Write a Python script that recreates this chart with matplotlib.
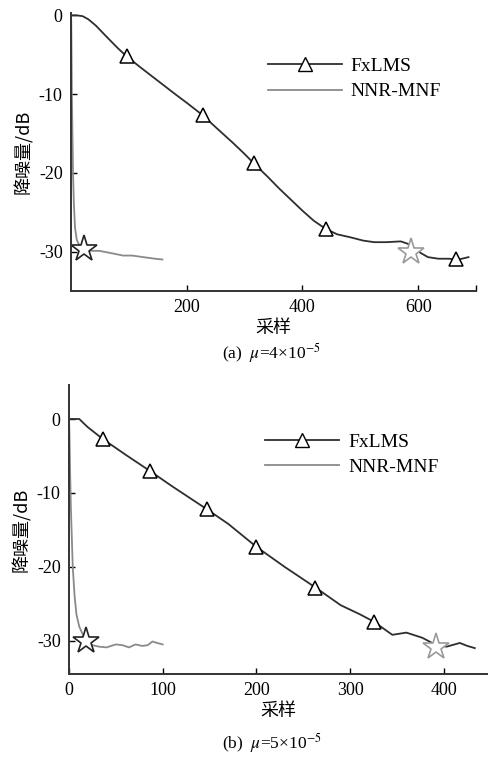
import matplotlib.pyplot as plt
from matplotlib.lines import Line2D

plt.rcParams['font.family'] = ['Liberation Serif', 'Noto Sans CJK SC']
plt.rcParams['mathtext.fontset'] = 'stix'

# ---- (a) mu = 4e-5 ----
fx_a_x = [0, 10, 20, 30, 43, 60, 80, 96, 120, 150, 180, 200, 228, 250, 280, 300, 316,
          340, 360, 380, 400, 420, 440, 460, 484, 505, 524, 545, 570, 582, 594, 605,
          617, 635, 652, 670, 687]
fx_a_y = [0, 0, -0.1, -0.5, -1.3, -2.6, -4.1, -5.2, -6.6, -8.3, -10.0, -11.1, -12.7,
          -14.2, -16.2, -17.6, -18.8, -20.5, -22.0, -23.4, -24.8, -26.1, -27.1, -27.8,
          -28.2, -28.6, -28.8, -28.8, -28.7, -29.0, -29.6, -30.2, -30.7, -30.9, -30.9,
          -31.0, -30.7]
nn_a_x = [0, 0.5, 1, 1.5, 2.5, 3.5, 5, 7, 10, 15, 23, 35, 49, 70, 90, 106, 125, 145, 158]
nn_a_y = [0, -1, -5, -10, -15, -20, -24, -27, -28.5, -29.3, -29.7, -29.9, -29.9, -30.2,
          -30.5, -30.5, -30.7, -30.9, -31.0]
tri_a_x = [96, 228, 316, 440, 666]
tri_a_y = [-5.2, -12.7, -18.8, -27.1, -30.9]
star_a = [(23, -29.7), (588, -30.1)]

# ---- (b) mu = 5e-5 ----
fx_b_x = [0, 5, 11, 15, 20, 36, 60, 86, 110, 147, 170, 200, 230, 263, 290, 310, 325,
          345, 360, 377, 392, 403, 417, 425, 433]
fx_b_y = [0, 0, 0, -0.5, -1.1, -2.7, -4.8, -7.0, -9.1, -12.2, -14.2, -17.3, -20.0,
          -22.8, -25.2, -26.4, -27.4, -29.2, -28.9, -29.6, -30.6, -30.8, -30.3, -30.7,
          -31.0]
nn_b_x = [0, 0.5, 1, 2, 4, 6, 8, 11, 18, 25, 32, 40, 50, 57, 64, 71, 78, 84, 89, 94, 100]
nn_b_y = [0, -2, -6, -12, -20, -24, -26.5, -28.1, -30.1, -30.6, -30.8, -30.9, -30.5,
          -30.6, -30.9, -30.5, -30.7, -30.6, -30.1, -30.3, -30.5]
tri_b_x = [36, 86, 147, 200, 263, 325]
tri_b_y = [-2.7, -7.0, -12.2, -17.3, -22.8, -27.4]
star_b = [(18, -30.1), (392, -30.8)]

FX_C = '#2e2e2e'
NN_C = '#8a8a8a'
W, H = 489, 763

fig = plt.figure(figsize=(W / 100, H / 100), dpi=100)


def panel(rect, fx_x, fx_y, nn_x, nn_y, tx, ty, stars, xlim, ylim, xticks, xlabels,
          leg_anchor):
    ax = fig.add_axes(rect)
    ax.plot(fx_x, fx_y, color=FX_C, lw=1.3)
    ax.plot(nn_x, nn_y, color=NN_C, lw=1.3)
    ax.plot(tx, ty, ls='none', marker='^', ms=10, mfc='white', mec='black', mew=1.1)
    ax.plot([stars[0][0]], [stars[0][1]], ls='none', marker='*', ms=20, mfc='white',
            mec='#222222', mew=1.2)
    ax.plot([stars[1][0]], [stars[1][1]], ls='none', marker='*', ms=20, mfc='white',
            mec='#9a9a9a', mew=1.2)
    ax.set_xlim(*xlim)
    ax.set_ylim(*ylim)
    ax.set_xticks(xticks)
    ax.set_xticklabels(xlabels)
    ax.set_yticks([0, -10, -20, -30])
    ax.set_yticklabels(['0', '-10', '-20', '-30'])
    for s in ['top', 'right']:
        ax.spines[s].set_visible(False)
    for s in ['left', 'bottom']:
        ax.spines[s].set_linewidth(1.4)
        ax.spines[s].set_color('#333333')
    ax.tick_params(direction='in', length=4, width=1.0, labelsize=13, pad=6)
    ax.set_ylabel('降噪量/dB', fontsize=13, family=['Noto Sans CJK SC'], labelpad=4)
    ax.set_xlabel('采样', fontsize=13, family=['Noto Sans CJK SC'], labelpad=2)
    handles = [Line2D([], [], color=FX_C, lw=1.3, marker='^', ms=10, mfc='white',
                      mec='black'),
               Line2D([], [], color=NN_C, lw=1.3)]
    ax.legend(handles, ['FxLMS', 'NNR-MNF'], loc='upper left', bbox_to_anchor=leg_anchor,
              frameon=False, fontsize=14, handlelength=3.8, handletextpad=0.45,
              borderpad=0, borderaxespad=0, labelspacing=0.4, numpoints=1)
    return ax


panel([71 / W, 1 - 291 / H, 405 / W, 278 / H], fx_a_x, fx_a_y, nn_a_x, nn_a_y,
      tri_a_x, tri_a_y, star_a, (0, 700), (-35, 0.3), [200, 400, 600, 700],
      ['200', '400', '600', ''], (0.486, 0.84))
panel([69 / W, 1 - 674 / H, 418 / W, 289 / H], fx_b_x, fx_b_y, nn_b_x, nn_b_y,
      tri_b_x, tri_b_y, star_b, (0, 446), (-34.5, 4.6), [0, 100, 200, 300, 400],
      ['0', '100', '200', '300', '400'], (0.47, 0.833))

fig.text(222 / W, 1 - 353 / H, r'(a)  $\mu$=4×10$^{-5}$', ha='left', va='center',
         fontsize=12.5)
fig.text(222 / W, 1 - 743 / H, r'(b)  $\mu$=5×10$^{-5}$', ha='left', va='center',
         fontsize=12.5)

fig.savefig('out.png', dpi=100)
